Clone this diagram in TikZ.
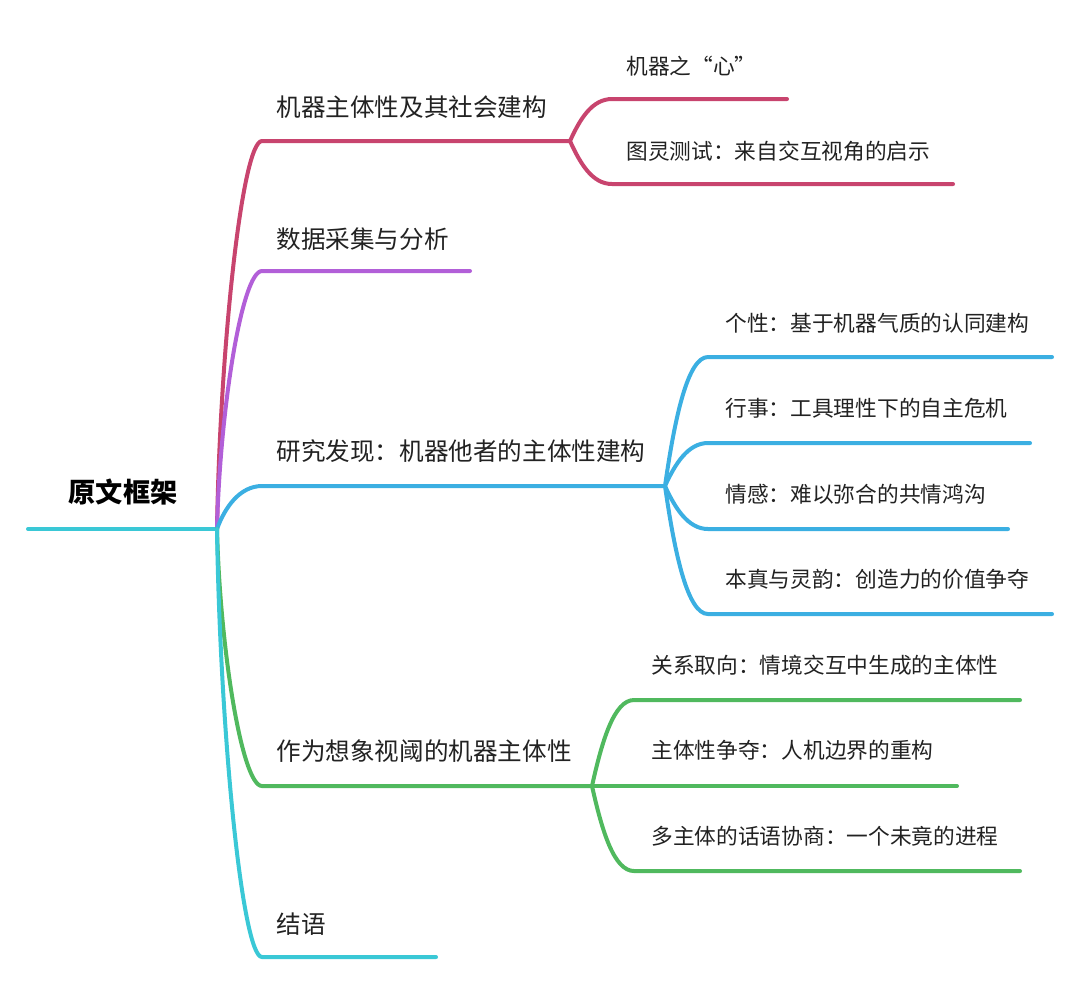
\documentclass[tikz,border=0pt]{standalone}
\usepackage{fontspec}
\newfontfamily\cjk{Noto Sans CJK SC}
\usetikzlibrary{positioning}

\definecolor{rosered}{HTML}{C8446E}
\definecolor{lilac}{HTML}{B25FD8}
\definecolor{skyblue}{HTML}{3BAFE2}
\definecolor{leafgreen}{HTML}{50B95E}
\definecolor{aqua}{HTML}{3AC8D6}
\definecolor{ink}{HTML}{222222}

\tikzset{
  limb/.style={line width=2pt, line cap=round},
  topic/.style={anchor=west, inner sep=0pt, text=ink, font=\cjk\fontsize{12.3pt}{14pt}\selectfont},
  subtopic/.style={anchor=west, inner sep=0pt, text=ink, font=\cjk\fontsize{10.85pt}{13pt}\selectfont}
}

\begin{document}
\begin{tikzpicture}[x=0.5pt, y=-0.5pt]
  \useasboundingbox (0,0) rectangle (1080,987);

  % root
  \coordinate (start) at (28,529);
  \coordinate (hub) at (217,529);
  \node[inner sep=0pt, font=\cjk\bfseries\fontsize{13.6pt}{16pt}\selectfont] (root) at (123,492) {原文框架};
  \draw[limb, aqua] (start) -- (hub);

  % main branches
  \coordinate (b1) at (262,141); \coordinate (b1e) at (570,141);
  \coordinate (b2) at (262,271); \coordinate (b2e) at (470,271);
  \coordinate (b3) at (262,486); \coordinate (b3e) at (665,486);
  \coordinate (b4) at (262,786); \coordinate (b4e) at (592,786);
  \coordinate (b5) at (262,957); \coordinate (b5e) at (436,957);

  \draw[limb, rosered] (hub) .. controls +(3,-180) and +(-20,0) .. (b1) -- (b1e);
  \draw[limb, lilac] (hub) .. controls +(3,-120) and +(-20,0) .. (b2) -- (b2e);
  \draw[limb, skyblue] (hub) .. controls +(8,-22) and +(-22,0) .. (b3) -- (b3e);
  \draw[limb, leafgreen] (hub) .. controls +(3,120) and +(-20,0) .. (b4) -- (b4e);
  \draw[limb, aqua] (hub) .. controls +(3,200) and +(-20,0) .. (b5) -- (b5e);

  \node[topic] (t1) at (276,107) {机器主体性及其社会建构};
  \node[topic] (t2) at (276,239) {数据采集与分析};
  \node[topic] (t3) at (276,451) {研究发现：机器他者的主体性建构};
  \node[topic] (t4) at (276,751) {作为想象视阈的机器主体性};
  \node[topic] (t5) at (276,924) {结语};

  % red sub branches
  \coordinate (r1) at (612,99);  \coordinate (r1e) at (787,99);
  \coordinate (r2) at (612,184); \coordinate (r2e) at (953,184);
  \draw[limb, rosered] (b1e) .. controls +(10,-22) and +(-20,0) .. (r1) -- (r1e);
  \draw[limb, rosered] (b1e) .. controls +(10,22) and +(-20,0) .. (r2) -- (r2e);
  \node[subtopic] (r1t) at (626,66) {机器之“心”};
  \node[subtopic] (r2t) at (626,151) {图灵测试：来自交互视角的启示};

  % blue sub branches
  \coordinate (s1) at (708,357); \coordinate (s1e) at (1052,357);
  \coordinate (s2) at (708,443); \coordinate (s2e) at (1030,443);
  \coordinate (s3) at (708,529); \coordinate (s3e) at (1008,529);
  \coordinate (s4) at (708,614); \coordinate (s4e) at (1052,614);
  \draw[limb, skyblue] (b3e) .. controls +(10,-70) and +(-20,0) .. (s1) -- (s1e);
  \draw[limb, skyblue] (b3e) .. controls +(10,-22) and +(-20,0) .. (s2) -- (s2e);
  \draw[limb, skyblue] (b3e) .. controls +(10,22) and +(-20,0) .. (s3) -- (s3e);
  \draw[limb, skyblue] (b3e) .. controls +(10,70) and +(-20,0) .. (s4) -- (s4e);
  \node[subtopic] (s1t) at (725,323) {个性：基于机器气质的认同建构};
  \node[subtopic] (s2t) at (725,408) {行事：工具理性下的自主危机};
  \node[subtopic] (s3t) at (725,494) {情感：难以弥合的共情鸿沟};
  \node[subtopic] (s4t) at (725,579) {本真与灵韵：创造力的价值争夺};

  % green sub branches
  \coordinate (g1) at (634,700); \coordinate (g1e) at (1020,700);
  \coordinate (g2e) at (957,786);
  \coordinate (g3) at (634,871); \coordinate (g3e) at (1020,871);
  \draw[limb, leafgreen] (b4e) .. controls +(10,-45) and +(-20,0) .. (g1) -- (g1e);
  \draw[limb, leafgreen] (b4e) -- (g2e);
  \draw[limb, leafgreen] (b4e) .. controls +(10,45) and +(-20,0) .. (g3) -- (g3e);
  \node[subtopic] (g1t) at (651,665) {关系取向：情境交互中生成的主体性};
  \node[subtopic] (g2t) at (651,750) {主体性争夺：人机边界的重构};
  \node[subtopic] (g3t) at (651,836) {多主体的话语协商：一个未竟的进程};
\end{tikzpicture}
\end{document}
